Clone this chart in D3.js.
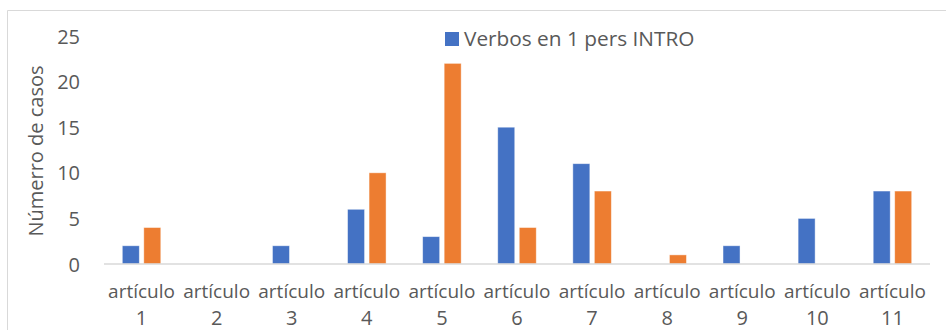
<!DOCTYPE html>
<html>
<head>
<meta charset="utf-8">
<script src="https://cdn.jsdelivr.net/npm/d3@7/dist/d3.min.js"></script>
<style>
  html, body { margin: 0; padding: 0; background: #fff; }
  svg { display: block; }
  text { font-family: "Open Sans", "Noto Sans", sans-serif; fill: #595959; }
</style>
</head>
<body>
<svg id="chart" width="946" height="330"></svg>
<script>
// Categories and series
const categories = ["1", "2", "3", "4", "5", "6", "7", "8", "9", "10", "11"];
const seriesNames = ["Verbos en 1 pers INTRO", ""];
const bluevalues = [2, 0, 2, 6, 3, 15, 11, 0, 2, 5, 8];
const orangeValues = [4, 0, 0, 10, 22, 4, 8, 1, 0, 0, 8];
const yTicks = [0, 5, 10, 15, 20, 25];
const colors = ["#4472C4", "#ED7D31"];

const svg = d3.select("#chart");
const W = 946, H = 330;
const fs = 20;

// Chart frame
svg.append("path")
  .attr("d", `M7.5,${H} V10.5 H${W}`)
  .attr("fill", "none")
  .attr("stroke", "#d9d9d9")
  .attr("stroke-width", 1);

const x = d3.scaleBand().domain(categories).range([104, 930]).paddingInner(0).paddingOuter(0);
const y = d3.scaleLinear().domain([0, 25]).range([264, 36]);

const barW = 17, gap = 4.5;
const series = [bluevalues, orangeValues];

// Bars
series.forEach((vals, si) => {
  svg.append("g").selectAll("rect")
    .data(vals.map((v, i) => ({ v, c: categories[i] })))
    .join("rect")
    .filter(d => d.v > 0)
    .attr("x", d => x(d.c) + x.bandwidth() / 2 - (barW + gap / 2) + si * (barW + gap))
    .attr("y", d => y(d.v))
    .attr("width", barW)
    .attr("height", d => y(0) - y(d.v))
    .attr("fill", colors[si])
    .attr("stroke", "rgba(255,255,255,0.55)")
    .attr("stroke-width", 0.8);
});

// Category axis line
svg.append("line")
  .attr("x1", x.range()[0]).attr("x2", x.range()[1])
  .attr("y1", y(0)).attr("y2", y(0))
  .attr("stroke", "#d9d9d9").attr("stroke-width", 1.5);

// Y tick labels
const yAxis = d3.axisLeft(y).tickValues(yTicks).tickSize(0).tickPadding(0);
const gy = svg.append("g").attr("transform", "translate(80,0)").call(yAxis);
gy.select(".domain").remove();
gy.selectAll("text")
  .attr("font-family", "Open Sans, Noto Sans, sans-serif")
  .attr("font-size", fs)
  .attr("fill", "#595959")
  .attr("dy", "0.35em");

// Category labels (two lines)
const xl = svg.append("g");
categories.forEach(c => {
  const cx = x(c) + x.bandwidth() / 2;
  const t = xl.append("text")
    .attr("text-anchor", "middle")
    .attr("font-size", 19)
    .attr("x", cx);
  t.append("tspan").attr("x", cx).attr("y", 298).text("artículo");
  t.append("tspan").attr("x", cx).attr("y", 325).attr("font-size", 20).text(c);
});

// Y axis title
svg.append("text")
  .attr("transform", "translate(43,151) rotate(-90)")
  .attr("text-anchor", "middle")
  .attr("font-size", fs)
  .text("Númerro de casos");

// Legend
const lg = svg.append("g").attr("transform", "translate(445,32)");
lg.append("rect").attr("width", 14).attr("height", 14).attr("fill", colors[0]);
lg.append("text").attr("x", 19).attr("y", 14).attr("font-size", 20.8).text(seriesNames[0]);
</script>
</body>
</html>
